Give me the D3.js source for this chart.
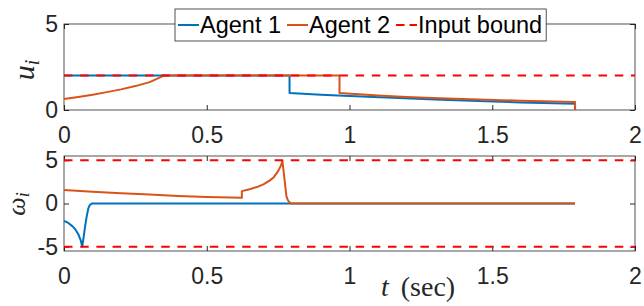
<!DOCTYPE html>
<html>
<head>
<meta charset="utf-8">
<script src="https://cdn.jsdelivr.net/npm/d3@7"></script>
<style>
  body { margin: 0; background: #fff; }
  svg { display: block; }
</style>
</head>
<body>
<div id="chart"></div>
<script>
// Control inputs of two agents

// linear speed u_i
var tU1 = [0, 0.79, 0.79, 0.9, 1.0, 1.15, 1.3, 1.45, 1.6, 1.79, 1.79];
var u1  = [2, 2, 0.99, 0.89, 0.81, 0.71, 0.61, 0.52, 0.44, 0.37, 0];
var tU2 = [0, 0.05, 0.1, 0.15, 0.2, 0.25, 0.3, 0.35, 0.965, 0.965, 1.1, 1.2, 1.315, 1.45, 1.6, 1.79, 1.79];
var u2  = [0.64, 0.76, 0.89, 1.04, 1.2, 1.39, 1.62, 2, 2, 0.99, 0.85, 0.76, 0.68, 0.61, 0.54, 0.47, 0];

// angular speed w_i
var tW1 = [0, 0.015, 0.03, 0.04, 0.05, 0.058, 0.064, 0.07, 0.075, 0.08, 0.085, 0.09, 0.097, 1.79];
var w1  = [-2, -2.25, -2.65, -3.0, -3.55, -4.2, -5, -3.6, -2.4, -1.4, -0.6, -0.2, 0, 0];
var tW2 = [0, 0.1, 0.2, 0.3, 0.4, 0.5, 0.623, 0.623, 0.65, 0.68, 0.7, 0.72, 0.735, 0.75, 0.76, 0.765, 0.772, 0.779, 0.784, 0.788, 0.795, 1.79];
var w2  = [1.55, 1.36, 1.19, 1.03, 0.88, 0.76, 0.67, 1.43, 1.65, 1.95, 2.25, 2.65, 3.05, 3.75, 4.4, 4.95, 2.9, 0.85, 0.4, 0.2, 0, 0];

var uBound = [2];
var wBound = [5, -5];

var xTicks = [0, 0.5, 1, 1.5, 2];
var xTickLabels = ["0", "0.5", "1", "1.5", "2"];
var uTicks = [0, 5];
var uTickLabels = ["0", "5"];
var wTicks = [-5, 0, 5];
var wTickLabels = ["-5", "0", "5"];

var seriesNames = ["Agent 1", "Agent 2", "Input bound"];
var colors = ["#0072BD", "#D95319", "#FF0000"];

var width = 644, height = 306;
var axisColor = "#262626";
var tickFont = "23px 'Liberation Sans', Arial, sans-serif";
var legendFont = "23.5px 'Liberation Sans', Arial, sans-serif";

var svg = d3.select("#chart").append("svg")
    .attr("width", width)
    .attr("height", height);

var x = d3.scaleLinear().domain([0, 2]).range([64, 635]);
var yU = d3.scaleLinear().domain([0, 5]).range([110, 24]);
var yW = d3.scaleLinear().domain([-5.5, 5.5]).range([251, 156]);

function styleAxis(g) {
  g.select(".domain").remove();
  g.selectAll(".tick line").attr("stroke", axisColor);
  g.selectAll(".tick text").style("font", tickFont).attr("fill", axisColor);
}

// box with inward ticks on all four sides (matlab style)
function drawAxes(y, yTicks, yLabels) {
  var y0 = y.range()[0], y1 = y.range()[1];
  var x0 = x.range()[0], x1 = x.range()[1];

  svg.append("g").attr("transform", "translate(0," + y0 + ")")
      .call(d3.axisBottom(x).tickValues(xTicks)
        .tickFormat(function(d, i) { return xTickLabels[i]; })
        .tickSize(-5).tickPadding(17))
      .call(styleAxis);
  svg.append("g").attr("transform", "translate(0," + y1 + ")")
      .call(d3.axisTop(x).tickValues(xTicks).tickFormat("").tickSize(-5))
      .call(styleAxis);
  svg.append("g").attr("transform", "translate(" + x0 + ",0)")
      .call(d3.axisLeft(y).tickValues(yTicks)
        .tickFormat(function(d, i) { return yLabels[i]; })
        .tickSize(-5).tickPadding(6))
      .call(styleAxis);
  svg.append("g").attr("transform", "translate(" + x1 + ",0)")
      .call(d3.axisRight(y).tickValues(yTicks).tickFormat("").tickSize(-5))
      .call(styleAxis);

  svg.append("rect")
      .attr("x", x0).attr("y", y1)
      .attr("width", x1 - x0).attr("height", y0 - y1)
      .attr("fill", "none")
      .attr("stroke", axisColor)
      .attr("stroke-width", 0.8);
}

function drawSeries(y, t, v, color) {
  var line = d3.line().x(function(d) { return x(d[0]); }).y(function(d) { return y(d[1]); });
  svg.append("path")
      .datum(d3.zip(t, v))
      .attr("d", line)
      .attr("fill", "none")
      .attr("stroke", color)
      .attr("stroke-width", 2)
      .attr("stroke-linejoin", "round");
}

function drawBounds(y, bounds) {
  svg.selectAll(null)
      .data(bounds)
      .enter().append("line")
      .attr("x1", x(0)).attr("x2", x(2))
      .attr("y1", function(d) { return y(d); })
      .attr("y2", function(d) { return y(d); })
      .attr("stroke", colors[2])
      .attr("stroke-width", 2)
      .attr("stroke-dasharray", "8.5,7.7");
}

// top panel: u_i
drawAxes(yU, uTicks, uTickLabels);
drawSeries(yU, tU1, u1, colors[0]);
drawSeries(yU, tU2, u2, colors[1]);
drawBounds(yU, uBound);

// bottom panel: w_i
drawAxes(yW, wTicks, wTickLabels);
drawSeries(yW, tW1, w1, colors[0]);
drawSeries(yW, tW2, w2, colors[1]);
drawBounds(yW, wBound);

// axis labels
var serif = "'Liberation Serif', 'Times New Roman', serif";

var uLab = svg.append("text")
    .attr("transform", "translate(34,70) rotate(-90)")
    .attr("text-anchor", "middle")
    .style("font-family", serif)
    .style("font-size", "30px")
    .style("font-style", "italic")
    .attr("fill", axisColor);
uLab.append("tspan").text("u");
uLab.append("tspan").attr("dy", 5).style("font-size", "20px").text("i");

var wLab = svg.append("text")
    .attr("transform", "translate(25,204) rotate(-90)")
    .attr("text-anchor", "middle")
    .style("font-family", serif)
    .style("font-size", "26px")
    .style("font-style", "italic")
    .attr("fill", axisColor);
wLab.append("tspan").text("ω");
wLab.append("tspan").attr("dy", 4).style("font-size", "18px").text("i");

var tLab = svg.append("text")
    .attr("x", 381).attr("y", 296)
    .style("font-family", serif)
    .style("font-size", "28px")
    .attr("fill", axisColor);
tLab.append("tspan").style("font-style", "italic").text("t");
tLab.append("tspan").attr("dx", 12).text("(sec)");

// legend
var legend = svg.append("g");
var legBox = legend.append("rect")
    .attr("x", 175).attr("y", 9)
    .attr("height", 32)
    .attr("fill", "#fff")
    .attr("stroke", axisColor)
    .attr("stroke-width", 0.8);

var lx = 178;
seriesNames.forEach(function(name, i) {
  legend.append("line")
      .attr("x1", lx).attr("x2", lx + 21)
      .attr("y1", 25).attr("y2", 25)
      .attr("stroke", colors[i])
      .attr("stroke-width", 2)
      .attr("stroke-dasharray", i == 2 ? "8.5,5" : null);
  var txt = legend.append("text")
      .attr("x", lx + 22).attr("y", 33)
      .style("font", legendFont)
      .attr("fill", "#000")
      .text(name);
  lx = lx + 22 + txt.node().getComputedTextLength() + 6;
});
legBox.attr("width", lx - 2 - 175);
</script>
</body>
</html>
